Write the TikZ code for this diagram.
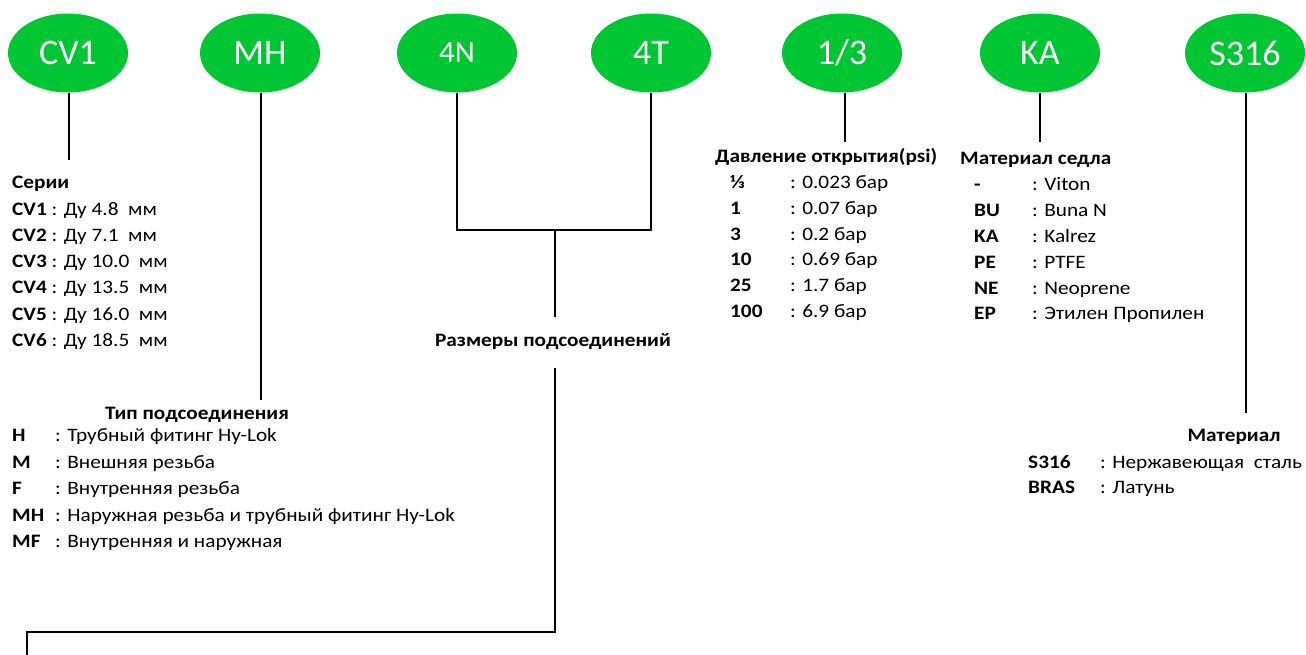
\documentclass[tikz,border=0pt]{standalone}
\usepackage{fontspec}
\setmainfont{Carlito}[FakeStretch=1.12]
\newfontfamily\pillfont{Carlito}
\usetikzlibrary{shapes.geometric}
\definecolor{pillgreen}{RGB}{0,198,52}
\begin{document}
\begin{tikzpicture}[x=1pt,y=-1pt,
  pill/.style={ellipse,fill=pillgreen,draw=none,minimum width=120pt,minimum height=79pt,inner sep=0pt,text=white,font=\pillfont\fontsize{36}{36}\selectfont},
  conn/.style={draw=black,line width=1.3pt},
  txt/.style={anchor=base west,inner sep=0pt,font=\fontsize{19}{22}\selectfont},
  head/.style={anchor=base west,inner sep=0pt,font=\fontsize{19}{22}\selectfont\bfseries},
  code/.style={anchor=base west,inner sep=0pt,font=\fontsize{19}{22}\selectfont\bfseries}]
\useasboundingbox (0,0) rectangle (1306,655);
% ellipses
\node[pill] (cv1) at (68,53) {CV1};
\node[pill] (mh) at (260,53) {MH};
\node[pill,font=\pillfont\fontsize{31}{31}\selectfont] (n4) at (457,53) {4N};
\node[pill] (t4) at (651,53) {4T};
\node[pill] (p13) at (842,53) {1/3};
\node[pill] (ka) at (1040,53) {KA};
\node[pill] (s316) at (1245,53) {S316};
% end coordinates
\coordinate (cv1end) at (69,160);
\coordinate (mhend) at (261,400);
\coordinate (joint) at (555,230);
\coordinate (szup) at (555,317);
\coordinate (szlow) at (555,368);
\coordinate (bendr) at (555,632);
\coordinate (bendl) at (27,632);
\coordinate (freeend) at (27,656);
\coordinate (p13end) at (845,142);
\coordinate (kaend) at (1040,142);
\coordinate (s316end) at (1246,413);
% connectors
\draw[conn] (cv1.south -| cv1end) -- (cv1end);
\draw[conn] (mh.south -| mhend) -- (mhend);
\draw[conn] (n4.south) -- (n4.south |- joint) -- (t4.south |- joint) -- (t4.south);
\draw[conn] (joint) -- (szup);
\draw[conn] (szlow) -- (bendr) -- (bendl) -- (freeend);
\draw[conn] (p13.south -| p13end) -- (p13end);
\draw[conn] (ka.south -| kaend) -- (kaend);
\draw[conn] (s316.south -| s316end) -- (s316end);
% Series
\node[head] (serh) at (12,189) {Серии};
\foreach \c/\v [count=\i] in {CV1/4.8,CV2/7.1,CV3/10.0,CV4/13.5,CV5/16.0,CV6/18.5}{
  \node[txt] (ser\i) at (12,{189+26.2*\i}) {\textbf{\c} :  Ду \v\ \ мм};
}
% Sizes label
\node[anchor=center,inner sep=0pt,font=\fontsize{19}{22}\selectfont\bfseries] (sizes) at (553,342) {Размеры подсоединений};
% Connection type
\node[head,anchor=base] (typh) at (197,419) {Тип подсоединения};
\foreach \c/\v [count=\i] in {H/Трубный фитинг Hy-Lok,M/Внешняя резьба,F/Внутренняя резьба,MH/Наружная резьба и трубный фитинг Hy-Lok,MF/Внутренняя и наружная}{
  \node[code] (typc\i) at (12,{415+26.5*\i}) {\c};
  \node[txt] (typv\i) at (55,{415+26.5*\i}) {: \v};
}
% Pressure
\node[head] (prh) at (715,163) {Давление открытия(psi)};
\foreach \c/\v [count=\i] in {⅓/0.023,1/0.07,3/0.2,10/0.69,25/1.7,100/6.9}{
  \node[code] (prc\i) at (730,{163+25.7*\i}) {\c};
  \node[txt] (prv\i) at (790,{163+25.7*\i}) {:  \v\ бар};
}
% Seat material
\node[head] (seh) at (960,165) {Материал седла};
\foreach \c/\v [count=\i] in {-/Viton,BU/Buna N,KA/Kalrez,PE/PTFE,NE/Neoprene,EP/Этилен Пропилен}{
  \node[code] (sec\i) at (974,{165+25.8*\i}) {\c};
  \node[txt] (sev\i) at (1032,{165+25.8*\i}) {:  \v};
}
% Material
\node[head,anchor=base] (math) at (1234,441) {Материал};
\node[code] (matc1) at (1028,468) {S316};
\node[txt] (matv1) at (1100,468) {: Нержавеющая\ \ сталь};
\node[code] (matc2) at (1028,493) {BRAS};
\node[txt] (matv2) at (1100,493) {: Латунь};
\end{tikzpicture}
\end{document}
